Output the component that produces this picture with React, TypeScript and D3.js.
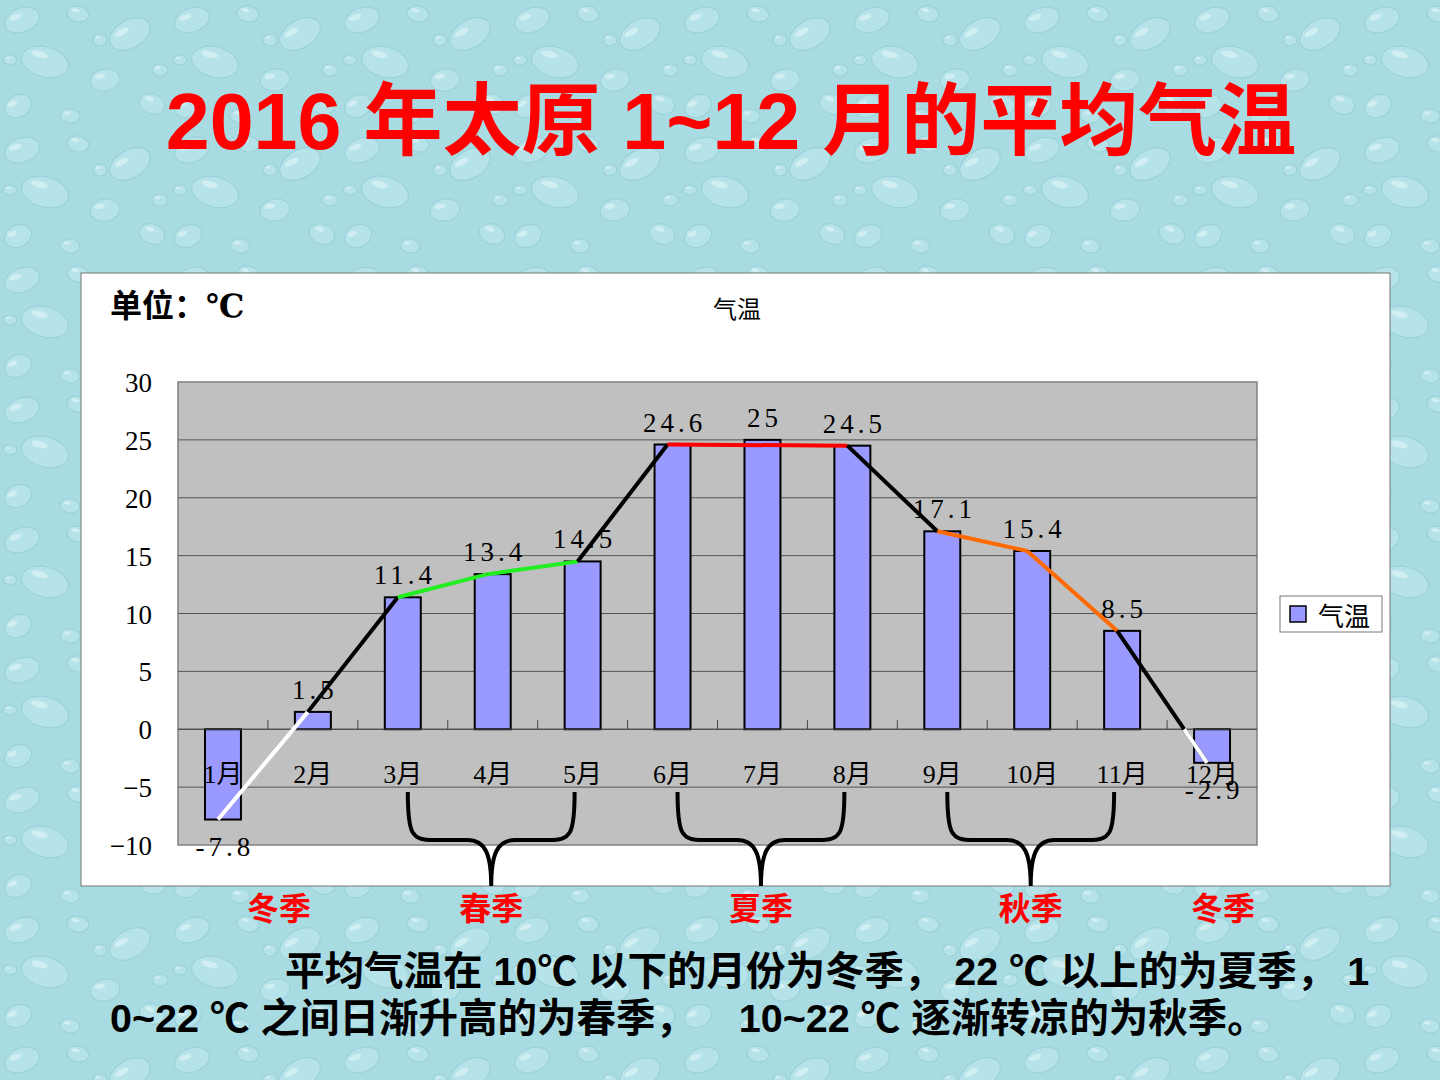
import { useEffect, useRef } from 'react'
import * as d3 from 'd3'

const months = ['1月', '2月', '3月', '4月', '5月', '6月', '7月', '8月', '9月', '10月', '11月', '12月']
const temps = [-7.8, 1.5, 11.4, 13.4, 14.5, 24.6, 25, 24.5, 17.1, 15.4, 8.5, -2.9]
const yTicks = [30, 25, 20, 15, 10, 5, 0, -5, -10]

// coloured trend segments: [from month index, to month index, colour]
const segments: [number, number, string][] = [
  [0, 1, '#ffffff'],
  [1, 2, '#000000'],
  [2, 3, '#22ee22'],
  [3, 4, '#22ee22'],
  [4, 5, '#000000'],
  [5, 7, '#ff0000'],
  [7, 8, '#000000'],
  [8, 9, '#ff6a00'],
  [9, 10, '#ff6a00'],
  [10, 11, '#000000'],
]

// braces under the seasons (first month, last month)
const braces: [number, number][] = [[2, 4], [5, 7], [8, 10]]

const seasons: { name: string; from: number; to: number }[] = [
  { name: '冬季', from: 0, to: 1 },
  { name: '春季', from: 2, to: 4 },
  { name: '夏季', from: 5, to: 7 },
  { name: '秋季', from: 8, to: 10 },
  { name: '冬季', from: 11, to: 11 },
]

const title = '2016 年太原 1~12 月的平均气温'
const noteLine1 = '平均气温在 10℃ 以下的月份为冬季， 22 ℃ 以上的为夏季， 1'
const noteLine2 = '0~22 ℃ 之间日渐升高的为春季，    10~22 ℃ 逐渐转凉的为秋季。'

const serif = '"Liberation Serif", "DejaVu Serif", "Noto Sans CJK SC", serif'
const sans = '"Liberation Sans", Arial, "Noto Sans CJK SC", sans-serif'

export default function App() {
  const svgRef = useRef<SVGSVGElement>(null)

  useEffect(() => {
    if (!svgRef.current) return
    const width = 1440
    const height = 1080
    const svg = d3.select(svgRef.current)
    svg.selectAll('*').remove()
    svg.attr('width', width).attr('height', height).attr('viewBox', `0 0 ${width} ${height}`)

    // water drop background
    const defs = svg.append('defs')
    const pat = defs.append('pattern')
      .attr('id', 'drops')
      .attr('width', 170)
      .attr('height', 130)
      .attr('patternUnits', 'userSpaceOnUse')
    pat.append('rect').attr('width', 170).attr('height', 130).attr('fill', '#a8dbe2')
    const drops = [
      [22, 20, 18, 12, -20], [78, 14, 11, 8, 10], [130, 34, 22, 14, -30], [45, 62, 24, 15, 15],
      [105, 80, 15, 11, -10], [152, 104, 13, 10, 20], [18, 106, 14, 11, -25], [70, 116, 10, 7, 5],
      [100, 40, 7, 6, 0], [160, 70, 8, 6, 0], [10, 60, 7, 5, 0],
    ]
    drops.forEach(([cx, cy, rx, ry, rot]) => {
      const g = pat.append('g').attr('transform', `translate(${cx},${cy}) rotate(${rot})`)
      g.append('ellipse')
        .attr('rx', rx).attr('ry', ry)
        .attr('fill', '#bfe8ee').attr('stroke', '#93ccd5').attr('stroke-width', 1.2)
        .attr('opacity', 0.6)
      g.append('ellipse')
        .attr('cx', -rx * 0.3).attr('cy', -ry * 0.4).attr('rx', rx * 0.35).attr('ry', ry * 0.22)
        .attr('fill', '#e2f7f9').attr('opacity', 0.6)
    })
    svg.append('rect').attr('width', width).attr('height', height).attr('fill', 'url(#drops)')

    // title
    svg.append('text')
      .attr('x', 731).attr('y', 149)
      .attr('text-anchor', 'middle')
      .attr('font-family', sans)
      .attr('font-weight', 'bold')
      .attr('font-size', 79)
      .attr('fill', '#ff0000')
      .text(title)

    // chart box
    svg.append('rect')
      .attr('x', 81).attr('y', 273).attr('width', 1309).attr('height', 613)
      .attr('fill', '#ffffff').attr('stroke', '#777').attr('stroke-width', 1)

    svg.append('text')
      .attr('x', 110).attr('y', 317)
      .attr('font-family', serif).attr('font-weight', 'bold').attr('font-size', 32)
      .text('单位：℃')

    svg.append('text')
      .attr('x', 737).attr('y', 318).attr('text-anchor', 'middle')
      .attr('font-family', serif).attr('font-size', 24)
      .text('气温')

    const plot = { left: 178, right: 1257, top: 382, bottom: 845 }
    const x = d3.scaleBand<string>().domain(months).range([plot.left, plot.right]).paddingInner(0).paddingOuter(0)
    const y = d3.scaleLinear().domain([-10, 30]).range([plot.bottom, plot.top])
    const cx = (i: number) => (x(months[i]) as number) + x.bandwidth() / 2

    svg.append('rect')
      .attr('x', plot.left).attr('y', plot.top)
      .attr('width', plot.right - plot.left).attr('height', plot.bottom - plot.top)
      .attr('fill', '#c0c0c0').attr('stroke', '#808080').attr('stroke-width', 1.5)

    // grid + y ticks
    svg.append('g').selectAll('line')
      .data(yTicks.filter(t => t !== 30 && t !== -10))
      .join('line')
      .attr('x1', plot.left).attr('x2', plot.right)
      .attr('y1', d => y(d)).attr('y2', d => y(d))
      .attr('stroke', '#555').attr('stroke-width', 1)

    svg.append('g').selectAll('text')
      .data(yTicks)
      .join('text')
      .attr('x', 152).attr('y', d => y(d) + 10)
      .attr('text-anchor', 'end')
      .attr('font-family', serif).attr('font-size', 27)
      .text(d => (d < 0 ? '\u2212' + Math.abs(d) : String(d)))

    // bars
    const bw = x.bandwidth() * 0.4
    svg.append('g').selectAll('rect')
      .data(temps)
      .join('rect')
      .attr('x', (d, i) => cx(i) - bw / 2)
      .attr('y', d => y(Math.max(0, d)))
      .attr('width', bw)
      .attr('height', d => Math.abs(y(d) - y(0)))
      .attr('fill', '#9999ff').attr('stroke', '#000').attr('stroke-width', 2)

    // zero axis with category ticks
    svg.append('line')
      .attr('x1', plot.left).attr('x2', plot.right)
      .attr('y1', y(0)).attr('y2', y(0))
      .attr('stroke', '#444').attr('stroke-width', 1)
    svg.append('g').selectAll('line')
      .data(months.slice(1))
      .join('line')
      .attr('x1', d => x(d) as number).attr('x2', d => x(d) as number)
      .attr('y1', y(0) - 9).attr('y2', y(0))
      .attr('stroke', '#444').attr('stroke-width', 1)

    // month labels
    svg.append('g').selectAll('text')
      .data(months)
      .join('text')
      .attr('x', (d, i) => cx(i)).attr('y', 783)
      .attr('text-anchor', 'middle')
      .attr('font-family', serif).attr('font-size', 26)
      .text(d => d)

    // value labels
    svg.append('g').selectAll('text')
      .data(temps)
      .join('text')
      .attr('x', (d, i) => cx(i) + 2)
      .attr('y', d => (d >= 0 ? y(d) - 13 : y(d) + 36))
      .attr('text-anchor', 'middle')
      .attr('font-family', serif).attr('font-size', 27).attr('letter-spacing', 4)
      .text(d => (d < 0 ? '-' + Math.abs(d) : String(d)))

    // trend segments
    const line = d3.line<[number, number]>()
    segments.forEach(([a, b, col]) => {
      svg.append('path')
        .attr('d', line([[cx(a) - 5, y(temps[a])], [cx(b) - 5, y(temps[b])]]))
        .attr('fill', 'none').attr('stroke', col).attr('stroke-width', 4)
    })
    // last winter bit in white past the zero crossing
    const t0 = temps[10] / (temps[10] - temps[11])
    const zx = cx(10) - 5 + t0 * (cx(11) - cx(10))
    svg.append('path')
      .attr('d', line([[zx, y(0)], [cx(11) - 5, y(temps[11])]]))
      .attr('stroke', '#ffffff').attr('stroke-width', 4)

    // braces
    const yT = 792, yH = 840, yB = 886
    const braceMid = (a: number, b: number) => (cx(a) + 5 + cx(b) - 8) / 2
    braces.forEach(([a, b]) => {
      const x0 = cx(a) + 5
      const x1 = cx(b) - 8
      const xm = braceMid(a, b)
      const p = `M${x0},${yT} C${x0},${yH - 5} ${x0 + 4},${yH} ${x0 + 26},${yH}`
        + ` L${xm - 24},${yH} C${xm - 6},${yH} ${xm},${yH + 14} ${xm},${yB}`
        + ` C${xm},${yH + 14} ${xm + 6},${yH} ${xm + 24},${yH}`
        + ` L${x1 - 26},${yH} C${x1 - 4},${yH} ${x1},${yH - 5} ${x1},${yT}`
      svg.append('path').attr('d', p)
        .attr('fill', 'none').attr('stroke', '#000').attr('stroke-width', 4)
    })

    // legend
    svg.append('rect')
      .attr('x', 1280).attr('y', 596).attr('width', 102).attr('height', 36)
      .attr('fill', '#fff').attr('stroke', '#777').attr('stroke-width', 1)
    svg.append('rect')
      .attr('x', 1290).attr('y', 606).attr('width', 16).attr('height', 16)
      .attr('fill', '#9999ff').attr('stroke', '#000').attr('stroke-width', 1.5)
    svg.append('text')
      .attr('x', 1318).attr('y', 626)
      .attr('font-family', serif).attr('font-size', 26)
      .text('气温')

    // season labels: under the brace tip, or just under the winter months
    svg.append('g').selectAll('text')
      .data(seasons)
      .join('text')
      .attr('x', d => (d.to - d.from >= 2 ? braceMid(d.from, d.to) : (cx(d.from) + cx(d.to)) / 2 + 11))
      .attr('y', 920)
      .attr('text-anchor', 'middle')
      .attr('font-family', serif).attr('font-weight', 'bold').attr('font-size', 32)
      .attr('fill', '#ff0000')
      .text(d => d.name)

    // note text
    svg.append('text')
      .attr('x', 285).attr('y', 985)
      .attr('font-family', sans).attr('font-weight', 'bold').attr('font-size', 39.5)
      .style('white-space', 'pre')
      .text(noteLine1)
    svg.append('text')
      .attr('x', 110).attr('y', 1032)
      .attr('font-family', sans).attr('font-weight', 'bold').attr('font-size', 39.5)
      .style('white-space', 'pre')
      .text(noteLine2)
  }, [])

  return (
    <div style={{ position: 'absolute', left: 0, top: 0 }}>
      <svg ref={svgRef} style={{ display: 'block' }}></svg>
    </div>
  )
}
